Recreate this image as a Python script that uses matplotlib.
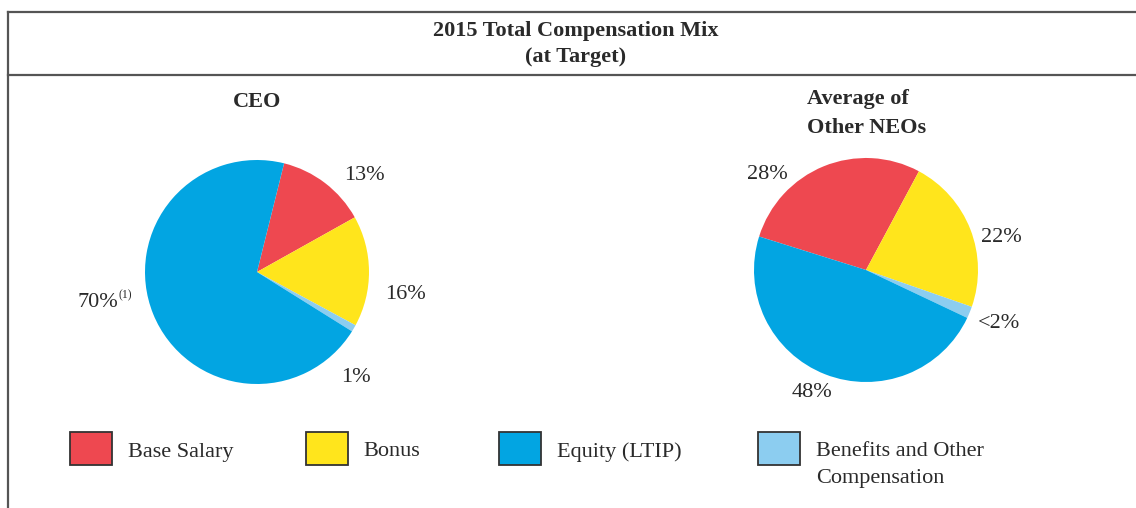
import matplotlib
matplotlib.use("Agg")
import matplotlib.pyplot as plt
from matplotlib.patches import Rectangle

# ---- data ----
categories = ["Base Salary", "Bonus", "Benefits and Other\nCompensation", "Equity (LTIP)"]
colors = ["#EE4850", "#FFE51C", "#8CCDF0", "#02A5E2"]
ceo_values = [13, 16, 1, 70]
ceo_labels = ["13%", "16%", "1%", "70%"]
neo_values = [28, 22.5, 1.7, 47.8]
neo_labels = ["28%", "22%", "<2%", "48%"]
legend_order = [0, 1, 3, 2]

W, H = 1136, 508
DPI = 100
plt.rcParams['font.family'] = ['Liberation Serif', 'DejaVu Serif']
TXT = "#2a2a2a"

fig = plt.figure(figsize=(W / DPI, H / DPI), dpi=DPI)
fig.patch.set_facecolor("white")

# overlay axes in pixel coordinates for frame, titles, legend
ov = fig.add_axes([0, 0, 1, 1])
ov.set_xlim(0, W)
ov.set_ylim(H, 0)
ov.axis("off")

lc = "#555555"
ov.plot([8, W], [12, 12], color=lc, lw=1.6)
ov.plot([8, W], [75, 75], color=lc, lw=1.6)
ov.plot([8, 8], [12, H], color=lc, lw=1.6)

ov.text(576, 31, "2015 Total Compensation Mix", ha="center", va="center",
        fontsize=16, fontweight="bold", color=TXT)
ov.text(576, 57, "(at Target)", ha="center", va="center",
        fontsize=16, fontweight="bold", color=TXT)
ov.text(257, 102, "CEO", ha="center", va="center",
        fontsize=16, fontweight="bold", color=TXT)
ov.text(807, 99, "Average of", ha="left", va="center",
        fontsize=16, fontweight="bold", color=TXT)
ov.text(807, 128, "Other NEOs", ha="left", va="center",
        fontsize=16, fontweight="bold", color=TXT)

# legend (manual boxes)
box_x = [70, 306, 499, 758]
text_x = [128, 363, 557, 816]
for bx, tx, idx in zip(box_x, text_x, legend_order):
    ov.add_patch(Rectangle((bx, 432), 42, 33, facecolor=colors[idx],
                           edgecolor="#333333", lw=1.3))
    lab = categories[idx]
    if "\n" in lab:
        l1, l2 = lab.split("\n")
        ov.text(tx, 452, l1, ha="left", va="center", fontsize=16, color=TXT)
        ov.text(tx, 479, l2, ha="left", va="center", fontsize=16, color=TXT)
    else:
        ov.text(tx, 452, lab, ha="left", va="center", fontsize=16, color=TXT)


def pie_axes(cx, cy, r):
    ax = fig.add_axes([(cx - r) / W, (H - cy - r) / H, 2 * r / W, 2 * r / H])
    ax.set_xlim(-1, 1)
    ax.set_ylim(-1, 1)
    ax.axis("off")
    return ax


R = 112
ax1 = pie_axes(257, 272, R)
ax1.pie(ceo_values, colors=colors, startangle=76, counterclock=False,
        radius=1, center=(0, 0), wedgeprops=dict(linewidth=0), frame=False)
ax1.set_xlim(-1, 1)
ax1.set_ylim(-1, 1)
ceo_pos = [(0.96, 0.86), (1.33, -0.20), (0.88, -0.94)]
for (x, y), t in zip(ceo_pos, ceo_labels[:3]):
    ax1.text(x, y, t, ha="center", va="center", fontsize=16, color=TXT)
ax1.text(-1.24, -0.27, ceo_labels[3], ha="right", va="center", fontsize=16, color=TXT)
ax1.text(-1.235, -0.21, "(1)", ha="left", va="center", fontsize=8.5, color=TXT)

ax2 = pie_axes(866, 270, R)
ax2.pie(neo_values, colors=colors, startangle=162.6, counterclock=False,
        radius=1, center=(0, 0), wedgeprops=dict(linewidth=0), frame=False)
ax2.set_xlim(-1, 1)
ax2.set_ylim(-1, 1)
neo_pos = [(-0.88, 0.85), (1.21, 0.29), (1.19, -0.48), (-0.48, -1.09)]
for (x, y), t in zip(neo_pos, neo_labels):
    ax2.text(x, y, t, ha="center", va="center", fontsize=16, color=TXT)

fig.savefig("out.png", dpi=DPI, facecolor="white")
